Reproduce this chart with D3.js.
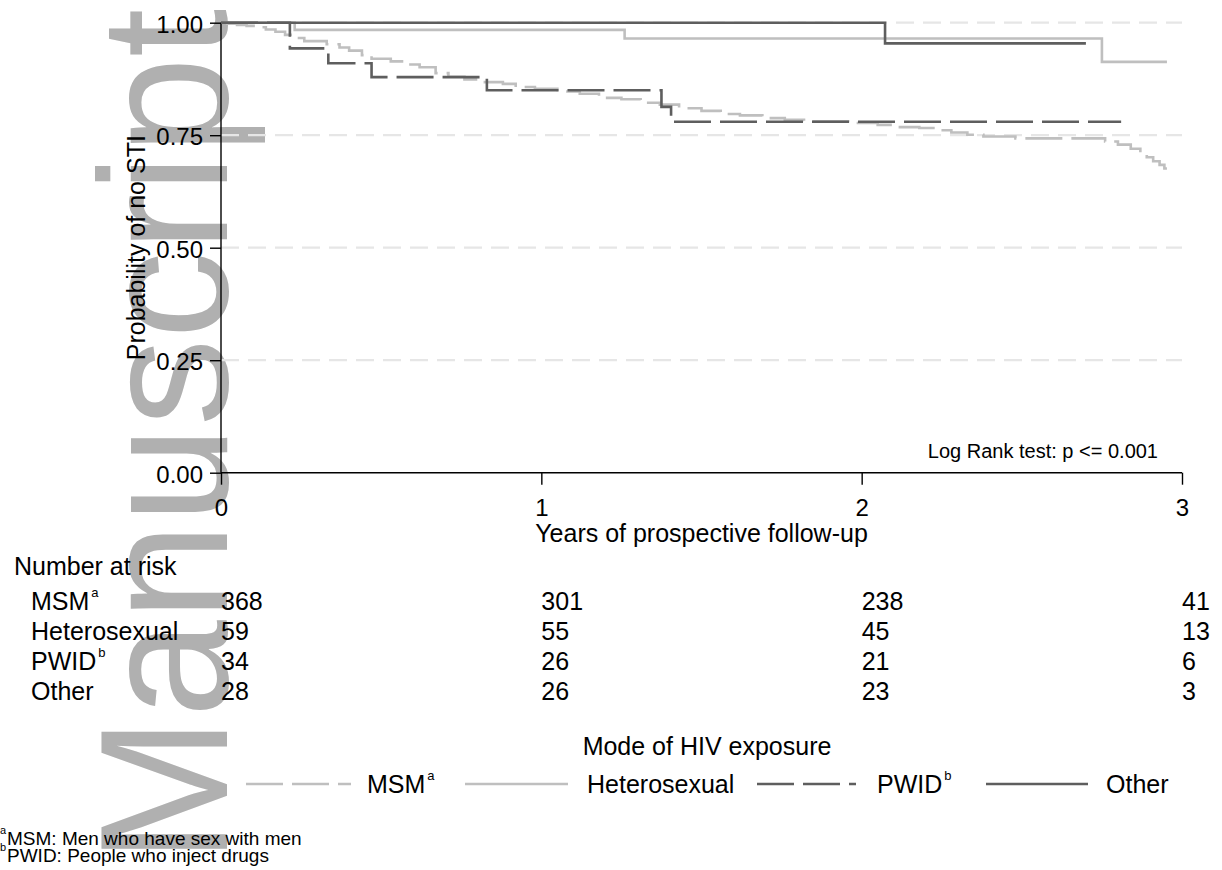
<!DOCTYPE html>
<html><head><meta charset="utf-8">
<script src="https://cdn.jsdelivr.net/npm/d3@7"></script>
<style>
body{margin:0;background:#fff}
svg{display:block}
text{font-family:"Liberation Sans",Arial,Helvetica,sans-serif;fill:#000}
</style>
</head><body>
<svg id="c" width="1222" height="870"></svg>
<script>
// ---------- data ----------
const groups = ["MSM", "Heterosexual", "PWID", "Other"];
const groupSup = ["a", "", "b", ""];
const msmSteps = [
  [0,1.000],[0.02,0.998],[0.05,0.995],[0.08,0.993],[0.11,0.990],[0.14,0.985],
  [0.17,0.980],[0.20,0.973],[0.23,0.966],[0.26,0.959],[0.33,0.952],[0.37,0.945],
  [0.40,0.938],[0.44,0.928],[0.47,0.920],[0.53,0.914],[0.57,0.907],[0.62,0.901],
  [0.67,0.888],[0.71,0.880],[0.76,0.874],[0.81,0.868],[0.88,0.864],[0.92,0.857],
  [0.98,0.853],[1.05,0.847],[1.12,0.842],[1.18,0.833],[1.25,0.830],[1.31,0.822],
  [1.37,0.818],[1.43,0.810],[1.50,0.804],[1.56,0.797],[1.62,0.794],[1.69,0.788],
  [1.76,0.784],[1.82,0.781],[1.97,0.777],[2.05,0.773],[2.10,0.768],[2.18,0.766],
  [2.23,0.761],[2.28,0.756],[2.33,0.751],[2.38,0.747],[2.48,0.743],[2.76,0.736],
  [2.80,0.729],[2.84,0.720],[2.87,0.707],[2.89,0.701],[2.91,0.692],[2.93,0.684],
  [2.945,0.676]
];
const hetSteps = [[0,1],[0.23,0.984],[1.26,0.965],[2.75,0.913]];
const pwidSteps = [[0,1],[0.215,0.943],[0.335,0.910],[0.47,0.879],[0.83,0.850],[1.375,0.813],[1.405,0.780]];
const otherSteps = [[0,1],[2.073,0.954]];
const endTimes = [2.953, 2.953, 2.81, 2.70];
const xTicks = [0, 1, 2, 3];
const yTicks = [0, 0.25, 0.5, 0.75, 1];
const gridTicks = [0.25, 0.5, 0.75, 1];
const riskTimes = [0, 1, 2, 3];
const riskMSM = [368, 301, 238, 41];
const riskHet = [59, 55, 45, 13];
const riskPWID = [34, 26, 21, 6];
const riskOther = [28, 26, 23, 3];
const footnotes = [["a","MSM: Men who have sex with men"],["b","PWID: People who inject drugs"]];

// ---------- styles ----------
const lightGray = "#bfbfbf", darkGray = "#5e5e5e";
const styles = [
  {color: lightGray, dash: "37 9"},
  {color: lightGray, dash: null},
  {color: darkGray, dash: "37 9"},
  {color: darkGray, dash: null}
];

const svg = d3.select("#c");

// watermark
svg.append("text")
  .attr("transform", "translate(227,863) rotate(-90) scale(0.96,1)")
  .attr("font-size", 182)
  .style("fill", "#b0b0b0")
  .text("Manuscript");

const x = d3.scaleLinear().domain([0, 3]).range([221, 1182]);
const y = d3.scaleLinear().domain([0, 1]).range([472.7, 22.7]);

// gridlines
svg.append("g").selectAll("line").data(gridTicks).join("line")
  .attr("x1", x(0)).attr("x2", x(3))
  .attr("y1", d => y(d)).attr("y2", d => y(d))
  .attr("stroke", "#e6e6e6").attr("stroke-width", 2.2)
  .attr("stroke-dasharray", "18 9");

// axes
const yAxis = svg.append("g").attr("transform", `translate(${x(0)},0)`)
  .call(d3.axisLeft(y).tickValues(yTicks).tickFormat(d3.format(".2f")).tickSize(11).tickPadding(7));
const xAxis = svg.append("g").attr("transform", `translate(0,${y(0)})`)
  .call(d3.axisBottom(x).tickValues(xTicks).tickFormat(d3.format("d")).tickSize(12).tickPadding(14));
[yAxis, xAxis].forEach(a => {
  a.select(".domain").attr("stroke", "#000").attr("stroke-width", 1.4);
  a.selectAll(".tick line").attr("stroke", "#000").attr("stroke-width", 1.4);
  a.selectAll(".tick text").attr("font-size", 24).attr("font-family", null).style("fill", "#000");
});
yAxis.select(".domain").attr("d", `M0,${y(1)}V${y(0)}`);
xAxis.select(".domain").attr("d", `M${x(0)},0H${x(3)}`);
yAxis.selectAll(".tick text").attr("dy", "0.40em");

// axis titles
svg.append("text").attr("transform", `translate(145,${(y(0)+y(1))/2}) rotate(-90)`)
  .attr("text-anchor", "middle").attr("font-size", 25).text("Probability of no STI");
svg.append("text").attr("x", (x(0)+x(3))/2).attr("y", 542)
  .attr("text-anchor", "middle").attr("font-size", 25).text("Years of prospective follow-up");

// Log rank annotation
svg.append("text").attr("x", 1158).attr("y", 458).attr("text-anchor", "end")
  .attr("font-size", 20).text("Log Rank test: p <= 0.001");

// curves
const allSteps = [msmSteps, hetSteps, pwidSteps, otherSteps];
const line = d3.line().x(d => x(d[0])).y(d => y(d[1])).curve(d3.curveStepAfter);
allSteps.forEach((steps, i) => {
  const pts = steps.concat([[endTimes[i], steps[steps.length - 1][1]]]);
  svg.append("path").attr("d", line(pts))
    .attr("fill", "none").attr("stroke", styles[i].color)
    .attr("stroke-width", 2.6)
    .attr("stroke-dasharray", styles[i].dash);
});

// number at risk
svg.append("text").attr("x", 14).attr("y", 575).attr("font-size", 25).text("Number at risk");
const riskRows = [riskMSM, riskHet, riskPWID, riskOther];
const rowY = [610, 640, 670, 700];
groups.forEach((g, i) => {
  const t = svg.append("text").attr("x", 31).attr("y", rowY[i]).attr("font-size", 25).text(g);
  if (groupSup[i]) {
    const w = t.node().getComputedTextLength();
    svg.append("text").attr("x", 31 + w + 2).attr("y", rowY[i] - 13)
      .attr("font-size", 13).text(groupSup[i]);
  }
  svg.append("g").selectAll("text").data(riskRows[i]).join("text")
    .attr("x", (d, j) => x(riskTimes[j])).attr("y", rowY[i])
    .attr("font-size", 25).text(d => d);
});

// legend
svg.append("text").attr("x", 707).attr("y", 755).attr("text-anchor", "middle")
  .attr("font-size", 25).text("Mode of HIV exposure");
const legLineX = [[246, 351], [465, 568], [757, 856], [986, 1088]];
const legTextX = [367, 587, 877, 1106];
const legY = 784;
groups.forEach((g, i) => {
  svg.append("line").attr("x1", legLineX[i][0]).attr("x2", legLineX[i][1])
    .attr("y1", legY).attr("y2", legY)
    .attr("stroke", styles[i].color).attr("stroke-width", 2.6)
    .attr("stroke-dasharray", styles[i].dash);
  const t = svg.append("text").attr("x", legTextX[i]).attr("y", legY + 9)
    .attr("font-size", 25).text(g);
  if (groupSup[i]) {
    const w = t.node().getComputedTextLength();
    svg.append("text").attr("x", legTextX[i] + w + 2).attr("y", legY - 4)
      .attr("font-size", 13).text(groupSup[i]);
  }
});

// footnotes
footnotes.forEach((f, i) => {
  const by = 845 + i * 17;
  svg.append("text").attr("x", 0).attr("y", by - 11).attr("font-size", 11).text(f[0]);
  svg.append("text").attr("x", 7).attr("y", by).attr("font-size", 19).text(f[1]);
});
</script>
</body></html>
